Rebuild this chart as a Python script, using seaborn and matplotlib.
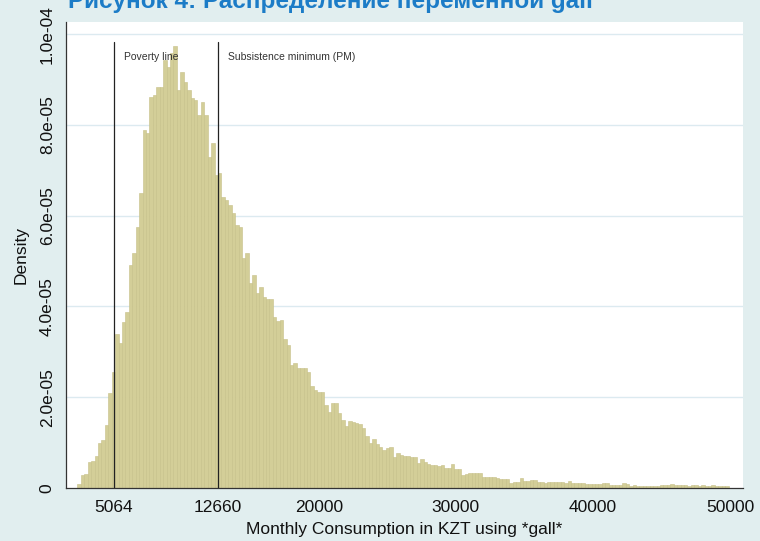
import numpy as np
import pandas as pd
import matplotlib
matplotlib.use('Agg')
import matplotlib.pyplot as plt
from matplotlib.ticker import FuncFormatter
import seaborn as sns

# Histogram of monthly consumption (KZT), bins of 250 starting at 2400
bin_start = 2400
bin_width = 250
# bar heights in units of 1e-05
density_e5 = [
    0.09, 0.28, 0.30, 0.58, 0.60, 0.70, 1.00, 1.05, 1.39, 2.09,
    2.56, 3.39, 3.19, 3.66, 3.88, 4.91, 5.18, 5.76, 6.50, 7.89,
    7.82, 8.62, 8.66, 8.84, 8.84, 9.43, 9.28, 9.58, 9.74, 8.77,
    9.17, 8.95, 8.77, 8.59, 8.55, 8.22, 8.51, 8.22, 7.30, 7.60,
    6.89, 6.94, 6.42, 6.34, 6.23, 6.06, 5.79, 5.76, 5.07, 5.18,
    4.52, 4.69, 4.30, 4.43, 4.21, 4.16, 4.16, 3.77, 3.69, 3.70,
    3.28, 3.15, 2.71, 2.75, 2.64, 2.64, 2.64, 2.56, 2.25, 2.17,
    2.12, 2.12, 1.83, 1.68, 1.88, 1.88, 1.65, 1.50, 1.37, 1.48,
    1.45, 1.43, 1.40, 1.32, 1.15, 0.99, 1.08, 0.97, 0.91, 0.84,
    0.88, 0.90, 0.69, 0.78, 0.73, 0.71, 0.71, 0.69, 0.69, 0.55,
    0.64, 0.57, 0.53, 0.51, 0.51, 0.48, 0.50, 0.44, 0.44, 0.53,
    0.42, 0.42, 0.29, 0.31, 0.33, 0.34, 0.34, 0.32, 0.25, 0.25,
    0.24, 0.24, 0.23, 0.19, 0.19, 0.19, 0.12, 0.13, 0.14, 0.23,
    0.16, 0.16, 0.18, 0.18, 0.14, 0.14, 0.10, 0.13, 0.13, 0.13,
    0.13, 0.13, 0.10, 0.15, 0.10, 0.10, 0.10, 0.10, 0.09, 0.09,
    0.09, 0.08, 0.08, 0.10, 0.10, 0.07, 0.07, 0.07, 0.07, 0.10,
    0.08, 0.05, 0.06, 0.05, 0.05, 0.05, 0.05, 0.05, 0.05, 0.05,
    0.06, 0.07, 0.07, 0.09, 0.06, 0.06, 0.06, 0.06, 0.05, 0.06,
    0.06, 0.05, 0.06, 0.05, 0.05, 0.06, 0.05, 0.05, 0.04, 0.04,
]

x_ticks = [5064, 12660, 20000, 30000, 40000, 50000]
y_ticks = [0, 2e-5, 4e-5, 6e-5, 8e-5, 1e-4]
ref_lines = [5064, 12660]
ref_labels = ['Poverty line', 'Subsistence minimum (PM)']
ref_top = 9.83e-5

title = 'Рисунок 4: Распределение переменной gall'
x_label = 'Monthly Consumption in KZT using *gall*'
y_label = 'Density'

n_bins = len(density_e5)
bin_end = bin_start + bin_width * n_bins
centers = bin_start + bin_width * (np.arange(n_bins) + 0.5)
df = pd.DataFrame({'consumption': centers, 'density': np.array(density_e5) * 1e-5})

sns.set_theme(style='white')
plt.rcParams['font.family'] = ['Liberation Sans', 'DejaVu Sans']

bg = '#E1EEEF'
fig = plt.figure(figsize=(7.6, 5.41), dpi=100, facecolor=bg)
ax = fig.add_axes([0.0868, 0.098, 0.8908, 0.861])
ax.set_facecolor('white')

# light blue horizontal grid like Stata s2color
for yv in y_ticks[1:]:
    ax.axhline(yv, color='#DCEAF0', lw=1.0, zorder=0)

sns.histplot(data=df, x='consumption', weights='density',
             binwidth=bin_width, binrange=(bin_start, bin_end),
             color='#D3CE98', alpha=1, edgecolor='#C6C088', linewidth=0.4,
             ax=ax, zorder=2)

for xv, lab in zip(ref_lines, ref_labels):
    ax.plot([xv, xv], [0, ref_top], color='#222222', lw=0.9, zorder=3)
    ax.text(xv + 700, 9.5e-5, lab, fontsize=7.5, color='#333333',
            ha='left', va='center', zorder=4)

ax.set_xlim(1562, 50950)
ax.set_ylim(0, 1.0264e-4)
ax.set_xticks(x_ticks)
ax.set_xticklabels([str(v) for v in x_ticks])
ax.set_yticks(y_ticks)
ax.yaxis.set_major_formatter(FuncFormatter(lambda v, p: '0' if v == 0 else f'{v:.1e}'))
for lab in ax.get_yticklabels():
    lab.set_rotation(90)
    lab.set_va('center')

ax.tick_params(axis='both', direction='out', length=5, width=0.8, color='#333333',
               labelsize=12.5, labelcolor='#111111', pad=3)
ax.tick_params(axis='x', pad=4)
ax.set_xlabel(x_label, fontsize=12.5, color='#111111', labelpad=5)
ax.set_ylabel(y_label, fontsize=12.5, color='#111111', labelpad=8)

sns.despine(ax=ax, top=True, right=True)
for s in ['left', 'bottom']:
    ax.spines[s].set_color('#333333')
    ax.spines[s].set_linewidth(0.9)

fig.text(0.089, 0.985, title, fontsize=17.5, fontweight='bold', color='#1C7CC7',
         ha='left', va='baseline')

fig.savefig('out.png', dpi=100, facecolor=bg)
